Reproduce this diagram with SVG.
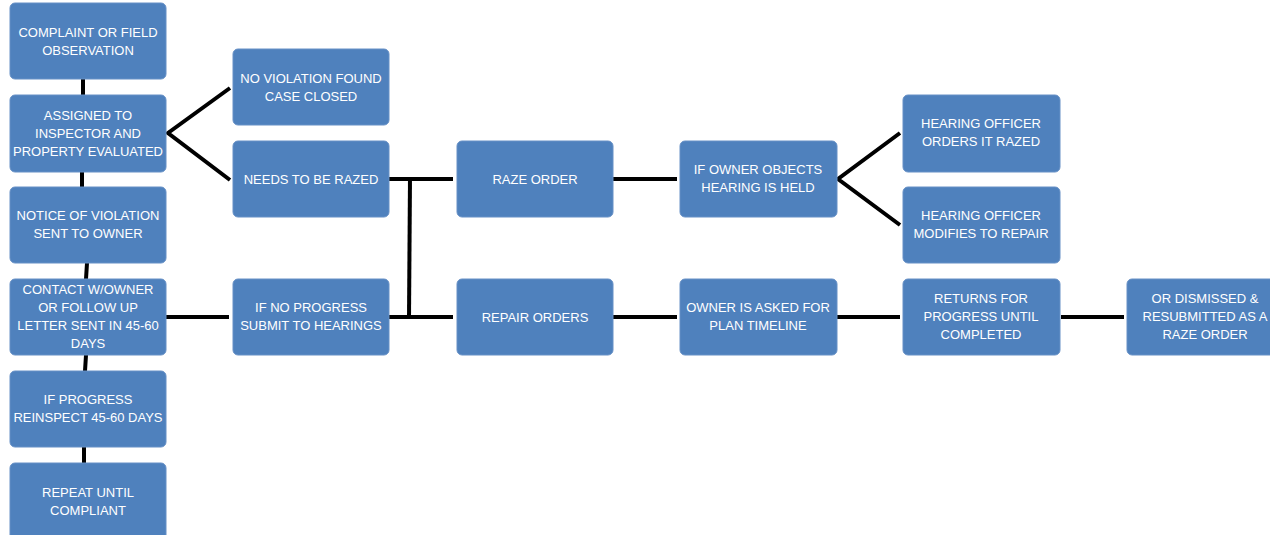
<svg xmlns="http://www.w3.org/2000/svg" width="1270" height="535" viewBox="0 0 1270 535">
<style>
.box{fill:#4F81BD;stroke:#6690C6;stroke-width:1}
.t{font-family:"Liberation Sans",Arial,sans-serif;font-size:13px;fill:#FFFFFF;text-anchor:middle}
.c{stroke:#000;stroke-width:4;fill:none;stroke-linecap:butt}
</style>
<rect width="1270" height="535" fill="#FFFFFF"/>
<g id="connectors">
<line class="c" x1="83" y1="79" x2="83" y2="95"/>
<line class="c" x1="82" y1="172" x2="82" y2="187"/>
<line class="c" x1="87" y1="263" x2="86" y2="279"/>
<line class="c" x1="86" y1="355" x2="85" y2="371"/>
<line class="c" x1="84" y1="447" x2="84" y2="463"/>
<polyline class="c" points="230,88 168,133 230,180"/>
<line class="c" x1="166" y1="317" x2="229" y2="317"/>
<line class="c" x1="389" y1="179" x2="453" y2="179"/>
<line class="c" x1="389" y1="317" x2="453" y2="317"/>
<line class="c" x1="410" y1="177" x2="409" y2="319"/>
<line class="c" x1="613" y1="179" x2="677" y2="179"/>
<line class="c" x1="613" y1="317" x2="677" y2="317"/>
<polyline class="c" points="900,133 838,179 900,225"/>
<line class="c" x1="837" y1="317" x2="900" y2="317"/>
<line class="c" x1="1061" y1="317" x2="1124" y2="317"/>
</g>
<g id="n1"><rect class="box" x="10" y="3" width="156" height="76" rx="5"/><text class="t" x="88" y="37">COMPLAINT OR FIELD</text><text class="t" x="88" y="55">OBSERVATION</text></g>
<g id="n2"><rect class="box" x="10" y="95" width="156" height="77" rx="5"/><text class="t" x="88" y="120">ASSIGNED TO</text><text class="t" x="88" y="138">INSPECTOR AND</text><text class="t" x="88" y="156">PROPERTY EVALUATED</text></g>
<g id="n3"><rect class="box" x="10" y="187" width="156" height="76" rx="5"/><text class="t" x="88" y="220">NOTICE OF VIOLATION</text><text class="t" x="88" y="238">SENT TO OWNER</text></g>
<g id="n4"><rect class="box" x="10" y="279" width="156" height="76" rx="5"/><text class="t" x="88" y="294">CONTACT W/OWNER</text><text class="t" x="88" y="312">OR FOLLOW UP</text><text class="t" x="88" y="330">LETTER SENT IN 45-60</text><text class="t" x="88" y="348">DAYS</text></g>
<g id="n5"><rect class="box" x="10" y="371" width="156" height="76" rx="5"/><text class="t" x="88" y="404">IF PROGRESS</text><text class="t" x="88" y="422">REINSPECT 45-60 DAYS</text></g>
<g id="n6"><rect class="box" x="10" y="463" width="156" height="77" rx="5"/><text class="t" x="88" y="497">REPEAT UNTIL</text><text class="t" x="88" y="515">COMPLIANT</text></g>
<g id="n7"><rect class="box" x="233" y="49" width="156" height="76" rx="5"/><text class="t" x="311" y="83">NO VIOLATION FOUND</text><text class="t" x="311" y="101">CASE CLOSED</text></g>
<g id="n8"><rect class="box" x="233" y="141" width="156" height="76" rx="5"/><text class="t" x="311" y="184">NEEDS TO BE RAZED</text></g>
<g id="n9"><rect class="box" x="233" y="279" width="156" height="76" rx="5"/><text class="t" x="311" y="312">IF NO PROGRESS</text><text class="t" x="311" y="330">SUBMIT TO HEARINGS</text></g>
<g id="n10"><rect class="box" x="457" y="141" width="156" height="76" rx="5"/><text class="t" x="535" y="184">RAZE ORDER</text></g>
<g id="n11"><rect class="box" x="457" y="279" width="156" height="76" rx="5"/><text class="t" x="535" y="322">REPAIR ORDERS</text></g>
<g id="n12"><rect class="box" x="680" y="141" width="157" height="76" rx="5"/><text class="t" x="758" y="174">IF OWNER OBJECTS</text><text class="t" x="758" y="192">HEARING IS HELD</text></g>
<g id="n13"><rect class="box" x="680" y="279" width="157" height="76" rx="5"/><text class="t" x="758" y="312">OWNER IS ASKED FOR</text><text class="t" x="758" y="330">PLAN TIMELINE</text></g>
<g id="n14"><rect class="box" x="903" y="95" width="157" height="77" rx="5"/><text class="t" x="981" y="128">HEARING OFFICER</text><text class="t" x="981" y="146">ORDERS IT RAZED</text></g>
<g id="n15"><rect class="box" x="903" y="187" width="157" height="76" rx="5"/><text class="t" x="981" y="220">HEARING OFFICER</text><text class="t" x="981" y="238">MODIFIES TO REPAIR</text></g>
<g id="n16"><rect class="box" x="903" y="279" width="157" height="76" rx="5"/><text class="t" x="981" y="303">RETURNS FOR</text><text class="t" x="981" y="321">PROGRESS UNTIL</text><text class="t" x="981" y="339">COMPLETED</text></g>
<g id="n17"><rect class="box" x="1127" y="279" width="156" height="76" rx="5"/><text class="t" x="1205" y="303">OR DISMISSED &amp;</text><text class="t" x="1205" y="321">RESUBMITTED AS A</text><text class="t" x="1205" y="339">RAZE ORDER</text></g>
</svg>
